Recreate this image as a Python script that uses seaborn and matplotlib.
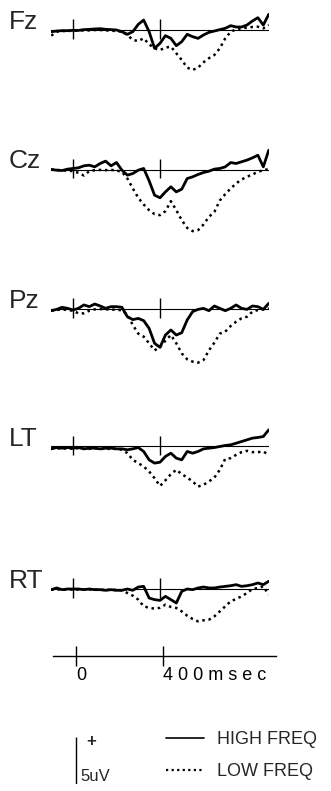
import numpy as np
import pandas as pd
import matplotlib
matplotlib.use("Agg")
import matplotlib.pyplot as plt
import seaborn as sns

# ---------------- data (microvolts, time in ms) ----------------
times = [-100, -75, -50, -25, 0, 25, 50, 75, 100, 125, 150, 175, 200,
         225, 250, 275, 300, 325, 350, 375, 400, 425, 450, 475, 500,
         525, 550, 575, 600, 625, 650, 675, 700, 725, 750, 775, 800,
         825, 850, 875, 900]

channels = ["Fz", "Cz", "Pz", "LT", "RT"]
conditions = ["HIGH FREQ", "LOW FREQ"]

fz_high = [-0.18, -0.11, -0.07, -0.07, -0.04, -0.04, 0.04, 0.07, 0.11, 0.14, 0.07, 0.04, 0.00,
           -0.18, -0.46, -0.18, 0.60, 1.06, -0.18, -1.95, -1.42, -0.60, -0.89, -1.67, -1.24,
           -0.46, -0.71, -0.89, -0.53, -0.25, -0.11, 0.04, 0.18, 0.46, 0.32, 0.32, 0.53,
           0.96, 1.31, 0.53, 1.67]
fz_low = [-0.60, -0.18, -0.11, -0.11, -0.07, -0.07, -0.04, -0.04, 0.00, 0.00, -0.04, -0.07, -0.11,
          -0.18, -0.53, -1.06, -1.17, -0.89, -1.52, -1.95, -2.13, -1.88, -1.77, -2.48, -3.19,
          -4.00, -4.25, -4.00, -3.44, -3.00, -2.66, -1.95, -0.89, -0.18, 0.07, 0.18, 0.25,
          0.32, 0.35, 0.18, 0.53]
cz_high = [0.00, -0.07, -0.11, 0.04, 0.11, 0.18, 0.39, 0.46, 0.28, 0.64, 0.89, 0.39, 0.74,
           -0.07, -0.60, -0.43, -0.07, 0.11, -1.20, -2.73, -3.01, -2.38, -1.84, -2.38, -2.09,
           -0.96, -0.78, -0.53, -0.32, -0.18, 0.04, 0.11, 0.28, 0.74, 0.64, 0.82, 1.00,
           1.24, 1.52, 0.28, 2.06]
cz_low = [0.00, -0.04, -0.11, -0.11, -0.18, -0.35, -0.64, -0.18, -0.07, -0.04, -0.07, -0.04, -0.11,
          -0.25, -0.96, -2.02, -3.01, -3.72, -4.33, -4.75, -4.86, -4.43, -3.37, -4.33, -5.39,
          -6.21, -6.56, -6.45, -5.85, -5.04, -4.50, -3.30, -2.62, -2.02, -1.49, -1.06, -0.78,
          -0.53, -0.25, -0.07, 0.04]
pz_high = [-0.18, -0.04, 0.18, 0.07, -0.11, 0.07, 0.43, 0.25, 0.53, 0.32, 0.07, 0.25, 0.25,
           0.18, -0.82, -1.13, -1.00, -1.24, -2.06, -3.65, -4.08, -2.77, -2.23, -2.77, -2.52,
           -1.17, -0.28, -0.04, 0.07, -0.18, 0.32, 0.07, -0.18, 0.07, 0.43, 0.07, -0.04,
           0.32, 0.25, -0.04, 0.60]
pz_low = [-0.18, -0.11, -0.04, -0.11, -0.18, -0.46, -0.46, -0.18, -0.04, 0.00, -0.04, -0.04, -0.11,
          -0.11, -0.64, -1.70, -2.62, -2.94, -3.65, -4.40, -4.04, -3.37, -2.77, -3.65, -4.72,
          -5.35, -5.60, -5.71, -5.43, -4.40, -3.58, -2.62, -2.41, -1.81, -1.35, -0.99, -0.82,
          -0.28, -0.11, -0.04, 0.07]
lt_high = [-0.25, -0.11, -0.18, -0.11, -0.18, -0.11, -0.25, -0.18, -0.18, -0.25, -0.18, -0.18, -0.25,
           -0.25, -0.35, -0.25, -0.11, -0.53, -1.42, -1.77, -1.67, -1.06, -0.71, -1.24, -1.42,
           -0.53, -0.71, -0.53, -0.25, -0.18, -0.11, 0.00, 0.11, 0.18, 0.35, 0.53, 0.71,
           0.89, 0.96, 1.06, 1.77]
lt_low = [-0.18, -0.18, -0.25, -0.18, -0.25, -0.18, -0.25, -0.25, -0.18, -0.25, -0.25, -0.25, -0.25,
          -0.35, -0.71, -1.42, -1.77, -2.13, -2.66, -3.37, -4.20, -3.60, -2.94, -2.48, -2.94,
          -3.30, -3.72, -4.26, -4.08, -3.72, -3.30, -2.48, -1.31, -1.24, -0.89, -0.60, -0.46,
          -0.60, -0.60, -0.53, -0.89]
rt_high = [-0.07, 0.11, -0.07, 0.00, 0.00, 0.00, -0.07, 0.00, -0.07, -0.07, -0.14, -0.07, -0.14,
           -0.14, 0.00, -0.14, 0.21, 0.28, -0.96, -1.13, -1.21, -0.78, -1.13, -1.49, -0.25,
           0.00, -0.07, 0.11, 0.21, 0.11, 0.11, 0.21, 0.28, 0.35, 0.46, 0.28, 0.35,
           0.46, 0.64, 0.46, 0.82]
rt_low = [-0.07, -0.04, -0.07, -0.07, -0.04, -0.07, -0.07, -0.04, -0.07, -0.07, -0.11, -0.07, -0.11,
          -0.14, -0.43, -0.71, -1.13, -1.84, -2.00, -2.09, -2.00, -1.67, -1.91, -2.02, -2.38,
          -2.84, -3.19, -3.44, -3.33, -3.26, -2.91, -2.38, -1.84, -1.31, -1.06, -0.78, -0.43,
          0.00, 0.11, 0.28, -0.60]

tick_times = [0, 400]
tick_labels = ["0", "4 0 0 m s e c"]
scale_uv = 5

series = {
    ("Fz", "HIGH FREQ"): fz_high, ("Fz", "LOW FREQ"): fz_low,
    ("Cz", "HIGH FREQ"): cz_high, ("Cz", "LOW FREQ"): cz_low,
    ("Pz", "HIGH FREQ"): pz_high, ("Pz", "LOW FREQ"): pz_low,
    ("LT", "HIGH FREQ"): lt_high, ("LT", "LOW FREQ"): lt_low,
    ("RT", "HIGH FREQ"): rt_high, ("RT", "LOW FREQ"): rt_low,
}
rows = []
for (ch, cond), vals in series.items():
    for t, v in zip(times, vals):
        rows.append({"channel": ch, "cond": cond, "time": t, "uv": v})
df = pd.DataFrame(rows)

# ---------------- style ----------------
sns.set_style("white")
plt.rcParams["font.family"] = ["Liberation Sans", "DejaVu Sans"]

W, H = 331, 791
fig = plt.figure(figsize=(W / 100, H / 100), dpi=100)
fig.patch.set_facecolor("white")


def fx(px):
    return px / W


def fy(py):
    return 1 - py / H


PX_PER_MS = 0.2175
PX_PER_UV = 9.4
YMIN, YMAX = -7, 3
baselines = {"Fz": 30, "Cz": 169.5, "Pz": 309, "LT": 446.5, "RT": 589}
x_zero = 73.0

handles = None
for ch in channels:
    base = baselines[ch]
    left = x_zero - 100 * PX_PER_MS
    top = base - YMAX * PX_PER_UV
    height = (YMAX - YMIN) * PX_PER_UV
    ax = fig.add_axes([fx(left), fy(top + height), fx(1000 * PX_PER_MS), height / H])
    ax.patch.set_alpha(0)
    sub = df[df.channel == ch]
    ax.axhline(0, color="black", lw=0.8, zorder=1)
    ax.vlines(tick_times, -0.95, 1.15, color="black", lw=1.0, zorder=1)
    sns.lineplot(data=sub[sub.cond == "LOW FREQ"], x="time", y="uv", ax=ax,
                 color="black", lw=1.8, linestyle=(0, (1, 1.5)), estimator=None,
                 label="LOW FREQ", legend=False, zorder=2)
    sns.lineplot(data=sub[sub.cond == "HIGH FREQ"], x="time", y="uv", ax=ax,
                 color="black", lw=2.0, estimator=None,
                 label="HIGH FREQ", legend=False, zorder=3)
    ax.set_xlim(-100, 900)
    ax.set_ylim(YMIN, YMAX)
    ax.set_axis_off()
    fig.text(fx(9), fy(base - 1), ch, fontsize=19, ha="left", va="baseline")
    if handles is None:
        lines = ax.get_lines()
        handles = [lines[-1], lines[-2]]

# ---------------- time axis ----------------
tax_x0 = 76.0
t_lo, t_hi = -106, 920
tax = fig.add_axes([fx(tax_x0 + t_lo * PX_PER_MS), fy(655.7), fx((t_hi - t_lo) * PX_PER_MS), 10 / H])
tax.patch.set_alpha(0)
tax.set_xlim(t_lo, t_hi)
tax.set_yticks([])
for s in ["top", "left", "right"]:
    tax.spines[s].set_visible(False)
tax.spines["bottom"].set_linewidth(1.0)
tax.spines["bottom"].set_color("black")
tax.set_xticks(tick_times)
tax.set_xticklabels(tick_labels, fontsize=13)
tax.tick_params(axis="x", bottom=True, direction="inout", length=14.4, width=1.0,
                pad=1, colors="black")
for lab in tax.get_xticklabels():
    lab.set_horizontalalignment("left")

# ---------------- scale bar ----------------
sax = fig.add_axes([fx(66), fy(784), fx(20), (10 * PX_PER_UV) / H])
sax.patch.set_alpha(0)
sax.vlines(0, 0, scale_uv, color="black", lw=1.0)
sax.set_xlim(-1, 1)
sax.set_ylim(0, 10)
sax.set_axis_off()
fig.text(fx(91.5), fy(741.5), "+", fontsize=12, fontweight="bold", ha="center", va="center")
fig.text(fx(80), fy(781), "5uV", fontsize=12, ha="left", va="baseline")

# ---------------- legend ----------------
leg = fig.legend(handles, ["HIGH FREQ", "LOW FREQ"], loc="upper left",
                 bbox_to_anchor=(fx(166), fy(731)), frameon=False, fontsize=13,
                 handlelength=2.1, handletextpad=0.75, labelspacing=0.85,
                 borderpad=0, borderaxespad=0)
for ln in leg.get_lines():
    ln.set_linewidth(1.2 if ln.get_linestyle() == "-" else 1.6)

fig.savefig("out.png", dpi=100)
